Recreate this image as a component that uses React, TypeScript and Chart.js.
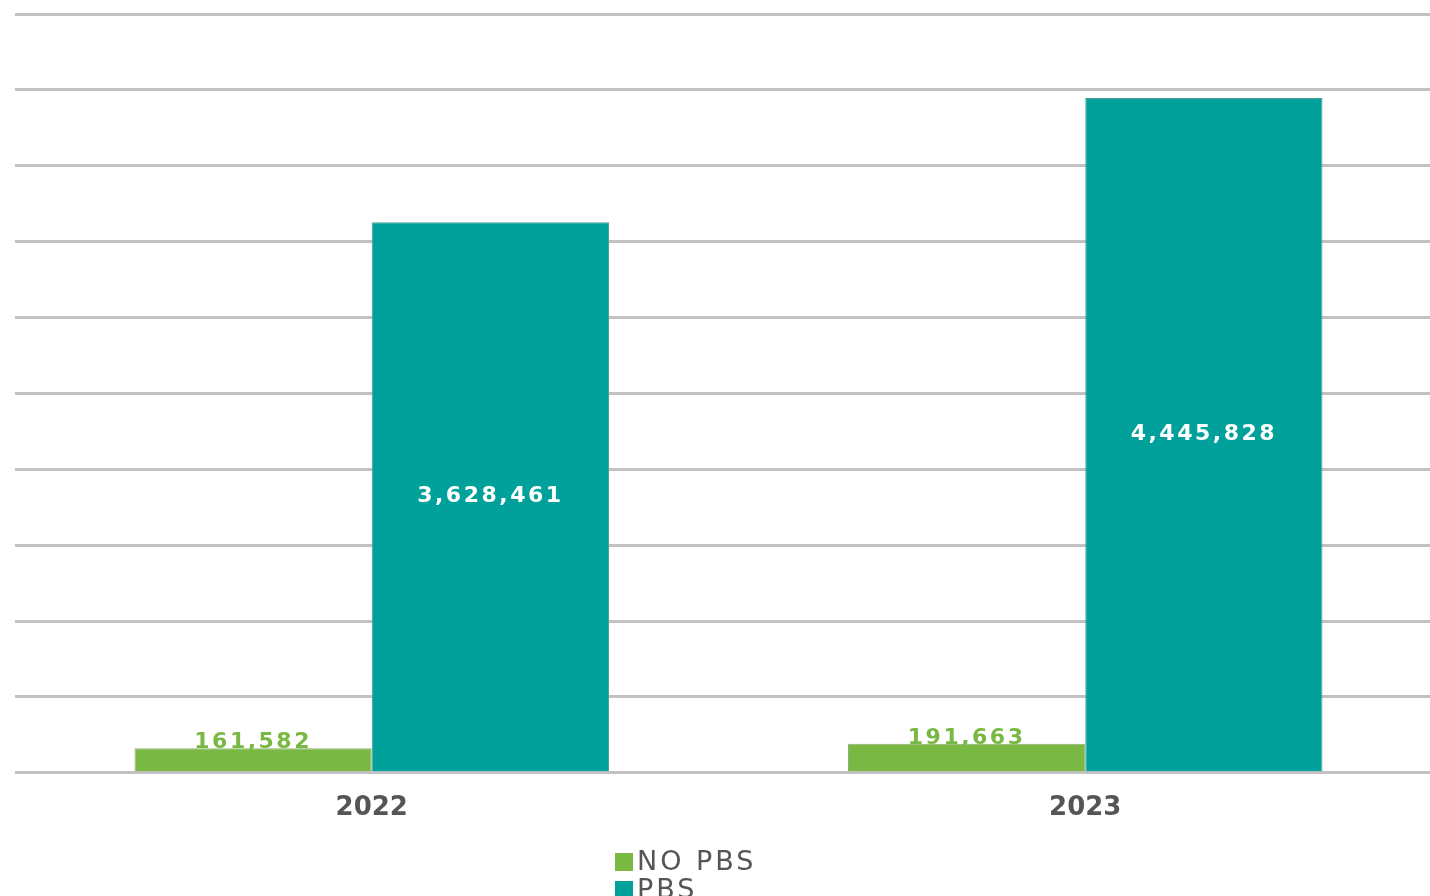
import React, { useEffect, useRef } from "react";
import { Chart, registerables } from "chart.js";

Chart.register(...registerables);

const categories = ["2022", "2023"];
const seriesNames = ["NO PBS", "PBS"];
const noPbsValues = [161582, 191663];
const pbsValues = [3628461, 4445828];
const yMax = 5000000;
const yStep = 500000;

const GREEN = "#79B943";
const TEAL = "#00A19A";

const fmt = (v: number) => v.toLocaleString("en-US");

const labelPlugin = {
  id: "valueLabels",
  afterDatasetsDraw(chart: any) {
    const ctx = chart.ctx;
    ctx.save();
    ctx.textAlign = "center";
    (ctx as any).letterSpacing = "2.5px";
    ctx.font = "bold 22px 'DejaVu Sans'";
    chart.data.datasets.forEach((ds: any, di: number) => {
      const meta = chart.getDatasetMeta(di);
      meta.data.forEach((bar: any, i: number) => {
        const v = ds.data[i];
        if (di === 0) {
          ctx.fillStyle = GREEN;
          ctx.textBaseline = "alphabetic";
          ctx.fillText(fmt(v), bar.x, bar.y);
        } else {
          ctx.fillStyle = "#ffffff";
          ctx.textBaseline = "middle";
          ctx.fillText(fmt(v), bar.x, (bar.y + bar.base) / 2);
        }
      });
    });
    ctx.restore();
  },
};

const legendPlugin = {
  id: "stackLegend",
  afterDraw(chart: any) {
    const ctx = chart.ctx;
    ctx.save();
    const x0 = 615;
    let y = 862;
    ctx.font = "27px 'DejaVu Sans'";
    (ctx as any).letterSpacing = "3px";
    ctx.textBaseline = "middle";
    ctx.textAlign = "left";
    chart.data.datasets.forEach((ds: any) => {
      ctx.fillStyle = ds.backgroundColor;
      ctx.fillRect(x0, y - 9, 18, 18);
      ctx.fillStyle = "#555555";
      ctx.fillText(ds.label, x0 + 22, y + 1);
      y += 28;
    });
    ctx.restore();
  },
};

export default function App() {
  const ref = useRef<HTMLCanvasElement>(null);
  useEffect(() => {
    if (!ref.current) return;
    const chart = new Chart(ref.current, {
      type: "bar",
      data: {
        labels: categories,
        datasets: [
          {
            label: seriesNames[0],
            data: noPbsValues,
            backgroundColor: GREEN,
            borderColor: "#8fb07a",
            borderWidth: 1,
          },
          {
            label: seriesNames[1],
            data: pbsValues,
            backgroundColor: TEAL,
            borderColor: "#4f9c98",
            borderWidth: 1,
          },
        ],
      },
      options: {
        responsive: false,
        animation: false,
        devicePixelRatio: 1,
        layout: { padding: { top: 14, left: 15, right: 0, bottom: 52 } },
        datasets: { bar: { categoryPercentage: 0.665, barPercentage: 1 } },
        plugins: {
          legend: { display: false },
          tooltip: { enabled: false },
        },
        scales: {
          x: {
            grid: { display: false, drawTicks: false },
            border: { display: false },
            ticks: {
              padding: 20,
              color: "#555555",
              font: { family: "'DejaVu Sans'", weight: "bold", size: 26 },
            },
          },
          y: {
            min: 0,
            max: yMax,
            ticks: { display: false, stepSize: yStep },
            grid: { color: "#c2c2c2", lineWidth: 3, drawTicks: false },
            border: { display: false },
            afterFit: (s: any) => {
              s.width = 0;
            },
          },
        },
      },
      plugins: [labelPlugin, legendPlugin],
    });
    return () => chart.destroy();
  }, []);
  return (
    <div
      style={{
        position: "fixed",
        left: 0,
        top: 0,
        width: 1430,
        height: 896,
        overflow: "hidden",
        background: "#ffffff",
      }}
    >
      <canvas ref={ref} width={1442} height={896} style={{ width: 1442, height: 896, display: "block" }} />
    </div>
  );
}
